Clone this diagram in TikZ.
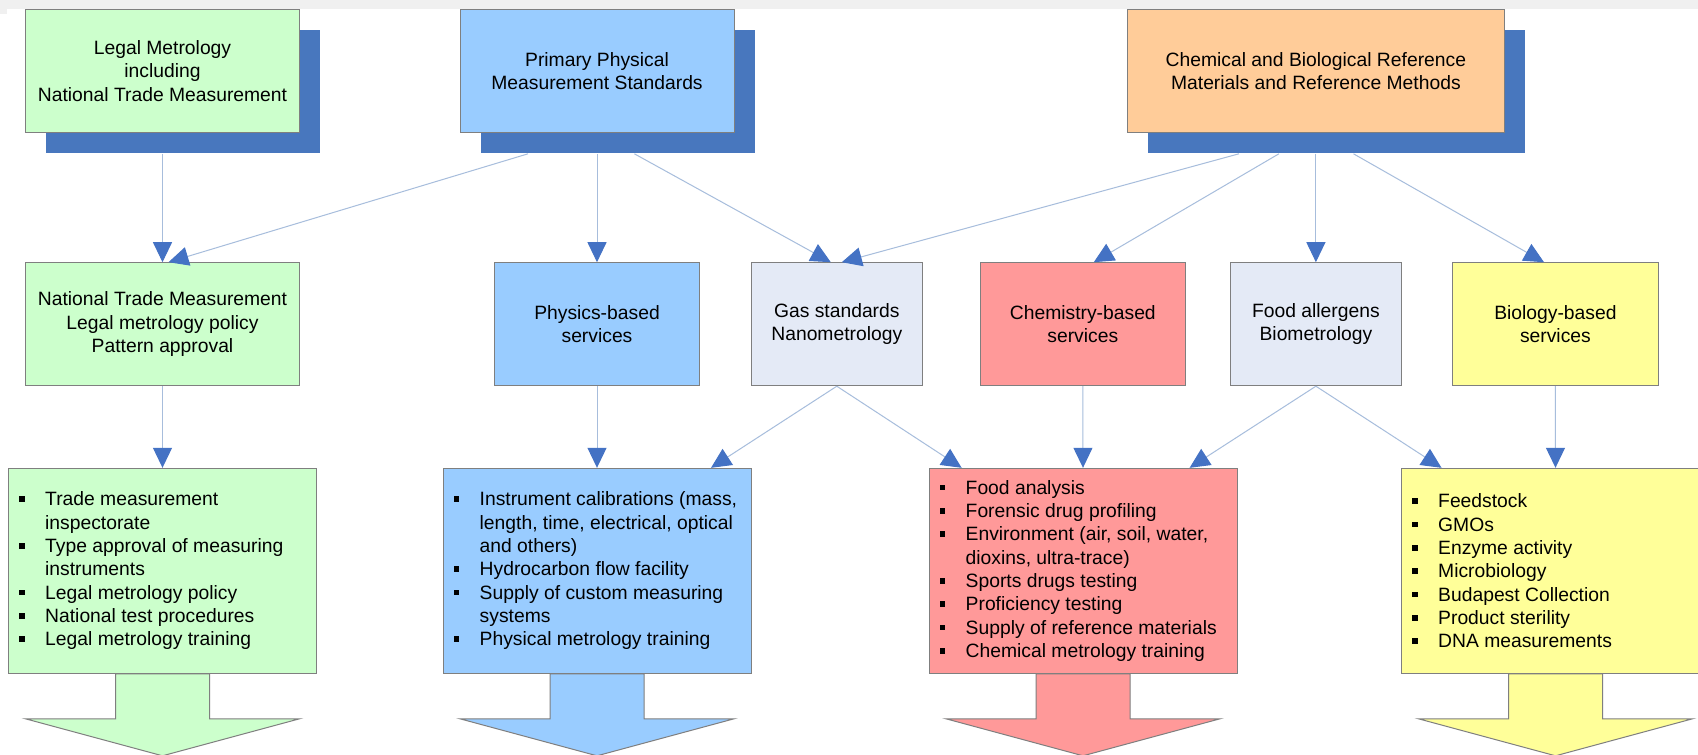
\documentclass[tikz,border=0pt]{standalone}
\usepackage{fontspec}
\setmainfont{Liberation Sans}
\usetikzlibrary{arrows.meta,calc}
\pgfdeclarelayer{bg}
\pgfsetlayers{bg,main}
\definecolor{cgreen}{HTML}{CCFFCC}
\definecolor{cblue}{HTML}{99CCFF}
\definecolor{corange}{HTML}{FFCC99}
\definecolor{cshadow}{HTML}{4877BE}
\definecolor{clav}{HTML}{E4EAF6}
\definecolor{cpink}{HTML}{FF9999}
\definecolor{cyellow}{HTML}{FFFF99}
\definecolor{cborder}{HTML}{7F7F7F}
\definecolor{cline}{HTML}{A7BDDC}
\definecolor{chead}{HTML}{4472C4}
\definecolor{cgray}{HTML}{F0F0F0}
\newcommand{\fsz}{\fontsize{19.3pt}{23.3pt}\selectfont}
\newcommand{\bitem}{\makebox[26.2pt][l]{\raisebox{3.8pt}{\rule{5.6pt}{5.6pt}}}}
\newcommand{\bcont}{\makebox[26.2pt]{}}
\newcommand{\bigarr}[2]{\draw[bigarrow, fill=#2] ($(#1.south)+(-47,0)$) -- ++(0,45) -- ++(-90,0) -- ($(#1.south)+(0,82)$) -- ($(#1.south)+(137,45)$) -- ++(-90,0) -- ++(0,-45) -- cycle;}
\tikzset{
  box/.style={draw=cborder, line width=1pt, inner sep=0pt, align=center, font=\fsz},
  shadowbox/.style={fill=cshadow, draw=none, inner sep=0pt},
  conn/.style={draw=cline, line width=1pt, -{Triangle[length=20pt,width=19pt,color=chead]}},
  bigarrow/.style={draw=cborder, line width=1pt},
  listtext/.style={align=left, inner sep=0pt, font=\fsz, anchor=west},
  toprow/.style={minimum height=123pt},
  midrow/.style={minimum height=123pt},
  lowrow/.style={minimum height=205pt, minimum width=308pt},
}
\begin{document}
\begin{tikzpicture}[x=1pt, y=-1pt]
\begin{pgfonlayer}{bg}
\fill[white] (0,0) rectangle (1698,755);
\end{pgfonlayer}
\useasboundingbox (0,0) rectangle (1698,755);
\fill[cgray] (0,0) rectangle (1698,9);
\fill[cgray] (0,0) rectangle (7,14);

% shadows
\node[shadowbox, toprow, minimum width=274.3pt] (Ash) at (183,91.8) {};
\node[shadowbox, toprow, minimum width=274pt] (Bsh) at (617.5,91.8) {};
\node[shadowbox, toprow, minimum width=376.8pt] (Csh) at (1336.3,91.8) {};

% top row
\node[box, toprow, fill=cgreen, minimum width=274.3pt] (A) at (162.5,70.8) {Legal Metrology\\including\\National Trade Measurement};
\node[box, toprow, fill=cblue, minimum width=274pt] (B) at (597,70.8) {Primary Physical\\Measurement Standards};
\node[box, toprow, fill=corange, minimum width=376.8pt] (C) at (1315.9,70.8) {Chemical and Biological Reference\\Materials and Reference Methods};

% middle row
\node[box, midrow, fill=cgreen, minimum width=274.3pt] (D) at (162.5,324.2) {National Trade Measurement\\Legal metrology policy\\Pattern approval};
\node[box, midrow, fill=cblue, minimum width=205pt] (E) at (597,324.2) {Physics-based\\services};
\node[box, midrow, fill=clav, minimum width=171.6pt] (F) at (836.8,324.2) {Gas standards\\Nanometrology};
\node[box, midrow, fill=cpink, minimum width=205.5pt] (G) at (1082.8,324.2) {Chemistry-based\\services};
\node[box, midrow, fill=clav, minimum width=171pt] (H) at (1315.9,324.2) {Food allergens\\Biometrology};
\node[box, midrow, fill=cyellow, minimum width=205.2pt] (I) at (1555.4,324.2) {Biology-based\\services};

% bottom row
\node[box, lowrow, fill=cgreen] (J) at (162.5,570.8) {};
\node[box, lowrow, fill=cblue] (K) at (597,570.8) {};
\node[box, lowrow, fill=cpink] (L) at (1083,570.8) {};
\node[box, lowrow, fill=cyellow] (M) at (1555.5,570.8) {};

\node[listtext] (Jt) at ($(J.west)+(10.8,0)$) {\bitem Trade measurement\\ \bcont inspectorate\\ \bitem Type approval of measuring\\ \bcont instruments\\ \bitem Legal metrology policy\\ \bitem National test procedures\\ \bitem Legal metrology training};
\node[listtext] (Kt) at ($(K.west)+(10.8,0)$) {\bitem Instrument calibrations (mass,\\ \bcont length, time, electrical, optical\\ \bcont and others)\\ \bitem Hydrocarbon flow facility\\ \bitem Supply of custom measuring\\ \bcont systems\\ \bitem Physical metrology training};
\node[listtext] (Lt) at ($(L.west)+(10.8,0)$) {\bitem Food analysis\\ \bitem Forensic drug profiling\\ \bitem Environment (air, soil, water,\\ \bcont dioxins, ultra-trace)\\ \bitem Sports drugs testing\\ \bitem Proficiency testing\\ \bitem Supply of reference materials\\ \bitem Chemical metrology training};
\node[listtext] (Mt) at ($(M.west)+(10.8,0)$) {\bitem Feedstock\\ \bitem GMOs\\ \bitem Enzyme activity\\ \bitem Microbiology\\ \bitem Budapest Collection\\ \bitem Product sterility\\ \bitem DNA measurements};

% big arrows
\begin{pgfonlayer}{bg}
\bigarr{J}{cgreen}
\bigarr{K}{cblue}
\bigarr{L}{cpink}
\bigarr{M}{cyellow}
\end{pgfonlayer}

% connectors
\draw[conn] ($(A.south)+(0,21)$) -- (D.north);
\draw[conn] ($(B.south)+(-69,21)$) -- ($(D.north)+(6,0)$);
\draw[conn] ($(B.south)+(0,21)$) -- (E.north);
\draw[conn] ($(B.south)+(37.4,21)$) -- ($(F.north)+(-6,0)$);
\draw[conn] ($(C.south)+(-77,21)$) -- ($(F.north)+(5,0)$);
\draw[conn] ($(C.south)+(-37,21)$) -- ($(G.north)+(11,0)$);
\draw[conn] ($(C.south)+(0,21)$) -- (H.north);
\draw[conn] ($(C.south)+(37.6,21)$) -- ($(I.north)+(-11.4,0)$);
\draw[conn] (D.south) -- (J.north);
\draw[conn] (E.south) -- (K.north);
\draw[conn] (F.south) -- ($(K.north)+(114,0)$);
\draw[conn] (F.south) -- ($(L.north)+(-121.4,0)$);
\draw[conn] (G.south) -- (L.north);
\draw[conn] (H.south) -- ($(L.north)+(106.6,0)$);
\draw[conn] (H.south) -- ($(M.north)+(-114,0)$);
\draw[conn] (I.south) -- (M.north);
\end{tikzpicture}
\end{document}
